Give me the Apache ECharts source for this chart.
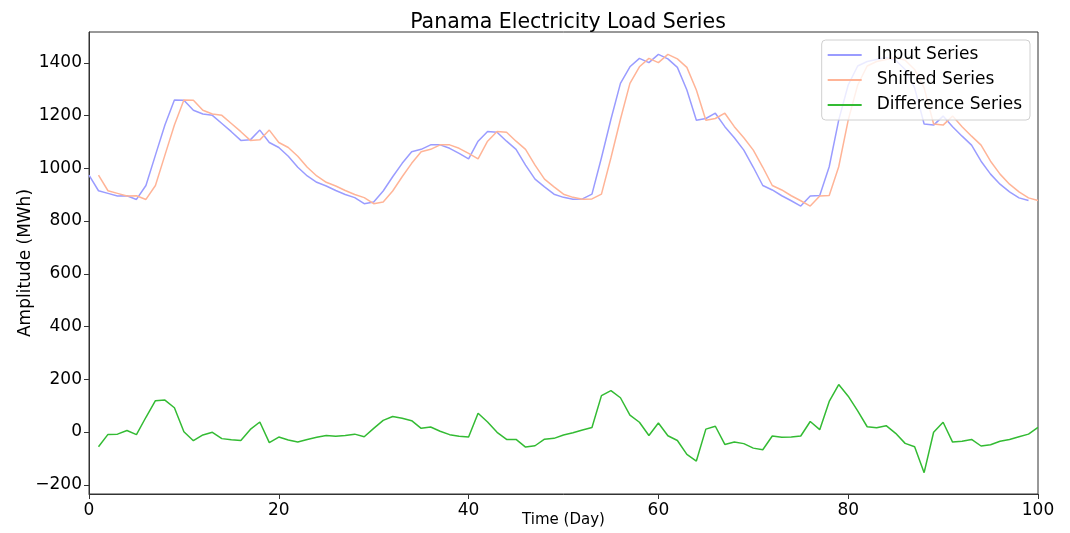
<!DOCTYPE html>
<html>
<head>
<meta charset="utf-8">
<script src="https://cdn.jsdelivr.net/npm/echarts@6/dist/echarts.min.js"></script>
<style>
html,body{margin:0;padding:0;background:#fff;}
#chart{width:1070px;height:533px;}
</style>
</head>
<body>
<div id="chart"></div>
<script>
// Input series, x = 0..99
const inputX = Array.from({length: 100}, (_, i) => i);
const inputValues = [
  974, 915, 905, 895, 896, 882, 935, 1050, 1164, 1259,
  1258, 1220, 1206, 1201, 1170, 1139, 1106, 1108, 1145, 1098,
  1079, 1046, 1004, 971, 947, 933, 916, 901, 889, 866,
  872, 914, 968, 1019, 1063, 1072, 1089, 1089, 1076, 1057,
  1036, 1103, 1140, 1137, 1103, 1072, 1012, 959, 930, 902,
  890, 883, 884, 902, 1040, 1186, 1322, 1385, 1417, 1401,
  1432, 1415, 1383, 1297, 1182, 1189, 1209, 1158, 1116, 1069,
  1004, 935, 918, 896, 877, 857, 895, 897, 1006, 1183,
  1316, 1388, 1405, 1413, 1420, 1410, 1375, 1305, 1168, 1164,
  1198, 1158, 1122, 1088, 1027, 978, 940, 911, 888, 878
];
// Shifted series, x = 1..100
const shiftedX = Array.from({length: 100}, (_, i) => i + 1);
const shiftedValues = [
  974, 915, 905, 895, 896, 882, 935, 1050, 1164, 1259,
  1258, 1220, 1206, 1201, 1170, 1139, 1106, 1108, 1145, 1098,
  1079, 1046, 1004, 971, 947, 933, 916, 901, 889, 866,
  872, 914, 968, 1019, 1063, 1072, 1089, 1089, 1076, 1057,
  1036, 1103, 1140, 1137, 1103, 1072, 1012, 959, 930, 902,
  890, 883, 884, 902, 1040, 1186, 1322, 1385, 1417, 1401,
  1432, 1415, 1383, 1297, 1182, 1189, 1209, 1158, 1116, 1069,
  1004, 935, 918, 896, 877, 857, 895, 897, 1006, 1183,
  1316, 1388, 1405, 1413, 1420, 1410, 1375, 1305, 1168, 1164,
  1198, 1158, 1122, 1088, 1027, 978, 940, 911, 888, 878
];
// Difference series, x = 1..100
const diffX = Array.from({length: 100}, (_, i) => i + 1);
const diffValues = [
  -56, -9, -8, 6, -10, 56, 119, 121, 92, 1,
  -33, -11, -1, -25, -29, -32, 10, 38, -40, -19,
  -30, -38, -28, -20, -13, -16, -13, -8, -18, 14,
  44, 59, 52, 43, 14, 19, 3, -10, -16, -19,
  71, 38, -1, -28, -28, -57, -52, -27, -24, -11,
  -3, 8, 17, 138, 157, 130, 64, 37, -13, 34,
  -14, -32, -85, -110, 11, 22, -47, -38, -44, -61,
  -67, -15, -20, -19, -15, 40, 9, 116, 180, 136,
  80, 20, 16, 24, -5, -43, -56, -154, -1, 37,
  -38, -35, -28, -53, -48, -35, -28, -18, -8, 18
];
const xTicks = [0, 20, 40, 60, 80, 100];
const yTicks = [-200, 0, 200, 400, 600, 800, 1000, 1200, 1400];
const seriesNames = ['Input Series', 'Shifted Series', 'Difference Series'];

const zip = (xs, ys) => xs.map((x, i) => [x, ys[i]]);
const FONT = "'DejaVu Sans', sans-serif";
const fmt = v => (v < 0 ? '\u2212' + Math.abs(v) : String(v));

const chart = echarts.init(document.getElementById('chart'), null, {renderer: 'canvas'});
chart.setOption({
  animation: false,
  backgroundColor: '#ffffff',
  title: {
    text: 'Panama Electricity Load Series',
    left: 563, textAlign: 'center', top: 7,
    textStyle: {fontFamily: FONT, fontSize: 20.5, fontWeight: 'normal', color: '#000'}
  },
  legend: {
    orient: 'vertical',
    right: 40, top: 40,
    data: seriesNames,
    icon: 'rect',
    itemWidth: 34, itemHeight: 2,
    itemGap: 5,
    padding: [5, 8, 5, 6],
    backgroundColor: 'rgba(255,255,255,0.8)',
    borderColor: '#d0d0d0', borderWidth: 1, borderRadius: 4,
    textStyle: {fontFamily: FONT, fontSize: 17, color: '#000', lineHeight: 20, padding: [0, 0, 0, 10]}
  },
  grid: {
    left: 89, right: 32, top: 32, bottom: 39,
    show: true, borderColor: '#333', borderWidth: 1,
    containLabel: false,
    outerBoundsMode: 'none'
  },
  xAxis: {
    type: 'value', min: 0, max: 100, interval: 20,
    name: 'Time (Day)', nameLocation: 'middle', nameGap: 19, nameMoveOverlap: false,
    nameTextStyle: {fontFamily: FONT, fontSize: 15, color: '#000'},
    axisLine: {show: true, onZero: false, lineStyle: {color: '#333'}},
    axisTick: {show: true, length: 5, lineStyle: {color: '#333'}},
    axisLabel: {fontFamily: FONT, fontSize: 17, color: '#000', margin: 8, customValues: xTicks},
    splitLine: {show: false}
  },
  yAxis: {
    type: 'value', min: -235, max: 1517,
    name: 'Amplitude (MWh)', nameLocation: 'middle', nameGap: 55, nameMoveOverlap: false,
    nameTextStyle: {fontFamily: FONT, fontSize: 17, color: '#000'},
    axisLine: {show: true, onZero: false, lineStyle: {color: '#333'}},
    axisTick: {show: true, length: 5, lineStyle: {color: '#333'}, customValues: yTicks},
    axisLabel: {fontFamily: FONT, fontSize: 17, color: '#000', margin: 7, customValues: yTicks, formatter: fmt},
    splitLine: {show: false}
  },
  series: [
    {
      name: seriesNames[0], type: 'line', data: zip(inputX, inputValues),
      symbol: 'none', lineStyle: {width: 1.5, color: '#9a9cff'}, itemStyle: {color: '#9a9cff'}
    },
    {
      name: seriesNames[1], type: 'line', data: zip(shiftedX, shiftedValues),
      symbol: 'none', lineStyle: {width: 1.5, color: '#ffb497'}, itemStyle: {color: '#ffb497'}
    },
    {
      name: seriesNames[2], type: 'line', data: zip(diffX, diffValues),
      symbol: 'none', lineStyle: {width: 1.5, color: '#33bb33'}, itemStyle: {color: '#33bb33'}
    }
  ]
});
</script>
</body>
</html>
